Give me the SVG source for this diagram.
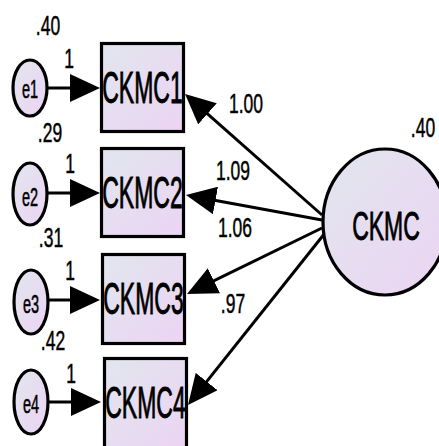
<svg xmlns="http://www.w3.org/2000/svg" width="439" height="446" viewBox="0 0 439 446">
  <defs>
    <linearGradient id="fillGrad" x1="0" y1="0" x2="1" y2="1">
      <stop offset="0" stop-color="#e1e6ee"/>
      <stop offset="1" stop-color="#ecd4f3"/>
    </linearGradient>
    <marker id="head" viewBox="0 0 30 28" refX="26" refY="14" markerWidth="30" markerHeight="28" markerUnits="userSpaceOnUse" orient="auto">
      <path d="M0,0 L30,14 L0,28 z" fill="#000"/>
    </marker>
  </defs>
  <style>
    .shape { fill: url(#fillGrad); stroke: #000; stroke-width: 3.2; }
    .conn { stroke: #000; stroke-width: 3; fill: none; marker-end: url(#head); }
    .lbl { font-family: "Liberation Sans", Arial, sans-serif; fill: #000; stroke: #000; text-anchor: middle; }
    .num { font-size: 17.5px; stroke-width: 0.3; }
    .var { font-size: 23px; stroke-width: 0.5; }
    .err { font-size: 14.5px; stroke-width: 0.3; }
  </style>

  <rect width="439" height="446" fill="#fff"/>

  <!-- connectors -->
  <g id="connectors">
    <line class="conn" x1="47" y1="88" x2="96" y2="88"/>
    <line class="conn" x1="47" y1="193" x2="96" y2="193"/>
    <line class="conn" x1="47" y1="300" x2="96" y2="300"/>
    <line class="conn" x1="47" y1="402" x2="97" y2="402"/>
    <line class="conn" x1="322" y1="215" x2="188" y2="96.6"/>
    <line class="conn" x1="322" y1="220" x2="189.9" y2="195.7"/>
    <line class="conn" x1="322" y1="228" x2="190.6" y2="292.2"/>
    <line class="conn" x1="325" y1="233" x2="190.5" y2="401.9"/>
  </g>

  <!-- path coefficients -->
  <g id="coefficients" class="lbl num">
    <text transform="translate(69,68) scale(1,1.6)">1</text>
    <text transform="translate(70,173) scale(1,1.6)">1</text>
    <text transform="translate(70,280) scale(1,1.6)">1</text>
    <text transform="translate(71,383) scale(1,1.6)">1</text>
    <text transform="translate(246,113) scale(1,1.6)">1.00</text>
    <text transform="translate(233,180) scale(1,1.6)">1.09</text>
    <text transform="translate(235,237) scale(1,1.6)">1.06</text>
    <text transform="translate(233,313) scale(1,1.6)">.97</text>
  </g>

  <!-- error terms -->
  <g id="e1">
    <ellipse class="shape" cx="30" cy="88" rx="17" ry="28"/>
    <text class="lbl err" transform="translate(30,97.5) scale(1,1.75)">e1</text>
    <text class="lbl num" transform="translate(48,35) scale(1,1.6)">.40</text>
  </g>
  <g id="e2">
    <ellipse class="shape" cx="30" cy="194" rx="17" ry="31"/>
    <text class="lbl err" transform="translate(30,206) scale(1,1.75)">e2</text>
    <text class="lbl num" transform="translate(50,142) scale(1,1.6)">.29</text>
  </g>
  <g id="e3">
    <ellipse class="shape" cx="31" cy="302" rx="17" ry="32"/>
    <text class="lbl err" transform="translate(31,313) scale(1,1.75)">e3</text>
    <text class="lbl num" transform="translate(51,247) scale(1,1.6)">.31</text>
  </g>
  <g id="e4">
    <ellipse class="shape" cx="31" cy="402" rx="17" ry="32"/>
    <text class="lbl err" transform="translate(31,413) scale(1,1.75)">e4</text>
    <text class="lbl num" transform="translate(53,350) scale(1,1.6)">.42</text>
  </g>

  <!-- observed indicators -->
  <g id="CKMC1">
    <rect class="shape" x="101.5" y="43.5" width="82" height="88"/>
    <text class="lbl var" transform="translate(142.5,102.5) scale(1,1.9)">CKMC1</text>
  </g>
  <g id="CKMC2">
    <rect class="shape" x="101.5" y="148.5" width="82" height="88"/>
    <text class="lbl var" transform="translate(142.5,207.5) scale(1,1.9)">CKMC2</text>
  </g>
  <g id="CKMC3">
    <rect class="shape" x="102.5" y="254.5" width="82" height="89"/>
    <text class="lbl var" transform="translate(143.5,314) scale(1,1.9)">CKMC3</text>
  </g>
  <g id="CKMC4">
    <rect class="shape" x="104.5" y="358.5" width="82" height="90"/>
    <text class="lbl var" transform="translate(145.5,418) scale(1,1.9)">CKMC4</text>
  </g>

  <!-- latent factor -->
  <g id="CKMC">
    <ellipse class="shape" cx="385" cy="222" rx="62" ry="73"/>
    <text class="lbl var" transform="translate(386,240) scale(1,1.75)">CKMC</text>
    <text class="lbl num" transform="translate(423,137) scale(1,1.6)">.40</text>
  </g>
</svg>
